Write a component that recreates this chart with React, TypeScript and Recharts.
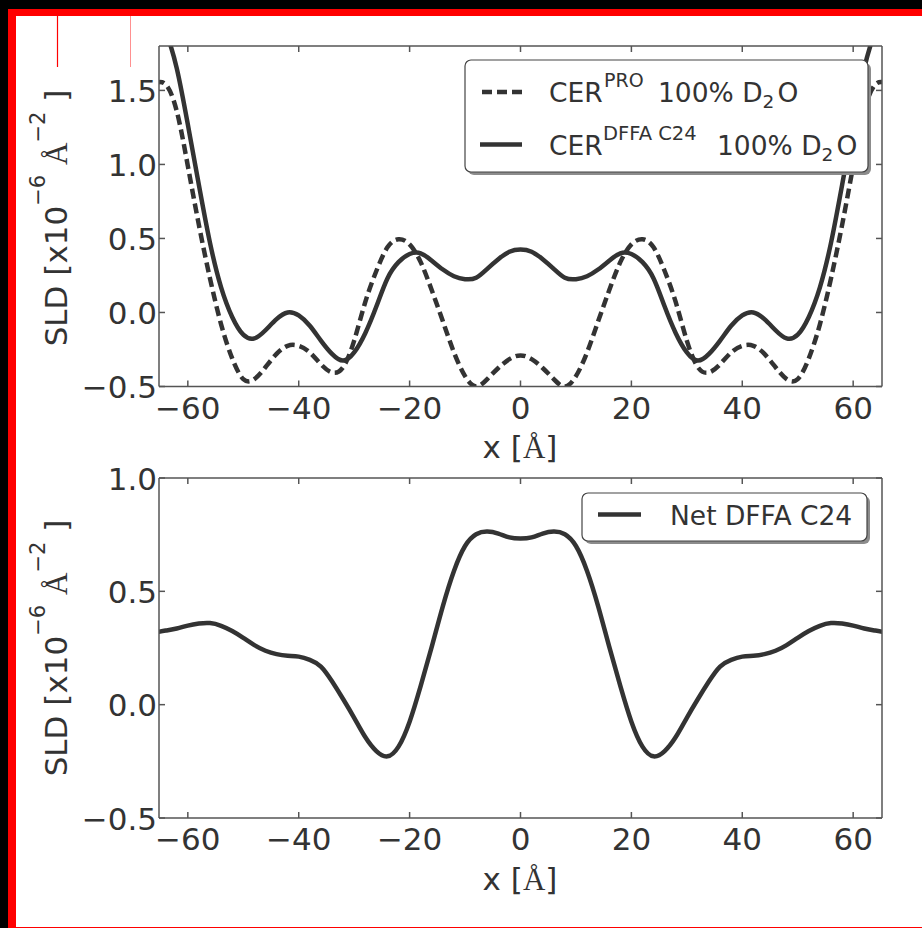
import React from "react";
import { Line, LineChart, XAxis, YAxis } from "recharts";

const INK = "#333333"; // curves and text
const SPINE = "#555555"; // axis frame and ticks
const FONT = "DejaVu Sans";
const SERIF = "Liberation Serif";

// x positions (Å), every 2 Å
const X_GRID = [
  -66, -64, -62, -60, -58, -56, -54, -52, -50, -48, -46, -44, -42, -40, -38, -36, -34,
  -32, -30, -28, -26, -24, -22, -20, -18, -16, -14, -12, -10, -8, -6, -4, -2, 0, 2, 4,
  6, 8, 10, 12, 14, 16, 18, 20, 22, 24, 26, 28, 30, 32, 34, 36, 38, 40, 42, 44, 46, 48,
  50, 52, 54, 56, 58, 60, 62, 64, 66,
];

// CER^PRO 100% D2O (dashed)
const PRO_SLD = [
  1.55, 1.54, 1.36, 0.99, 0.59, 0.23, -0.08, -0.31, -0.45, -0.45, -0.37, -0.28, -0.225,
  -0.225, -0.27, -0.35, -0.405, -0.37, -0.19, 0.07, 0.28, 0.44, 0.495, 0.46, 0.34, 0.15,
  -0.06, -0.27, -0.43, -0.5, -0.45, -0.375, -0.315, -0.29, -0.315, -0.375, -0.45, -0.5,
  -0.43, -0.27, -0.06, 0.15, 0.34, 0.46, 0.495, 0.44, 0.28, 0.07, -0.19, -0.37, -0.405,
  -0.35, -0.27, -0.225, -0.225, -0.28, -0.37, -0.45, -0.45, -0.31, -0.08, 0.23, 0.59,
  0.99, 1.36, 1.54, 1.55,
];

// CER^DFFA C24 100% D2O (solid)
const DFFA_SLD = [
  2.08, 1.9, 1.65, 1.27, 0.86, 0.47, 0.17, -0.03, -0.15, -0.175, -0.12, -0.045, 0.0,
  -0.02, -0.09, -0.19, -0.28, -0.325, -0.27, -0.14, 0.04, 0.23, 0.34, 0.395, 0.4, 0.35,
  0.29, 0.245, 0.225, 0.235, 0.295, 0.36, 0.41, 0.425, 0.41, 0.36, 0.295, 0.235, 0.225,
  0.245, 0.29, 0.35, 0.4, 0.395, 0.34, 0.23, 0.04, -0.14, -0.27, -0.325, -0.28, -0.19,
  -0.09, -0.02, 0.0, -0.045, -0.12, -0.175, -0.15, -0.03, 0.17, 0.47, 0.86, 1.27, 1.65,
  1.9, 2.08,
];

// Net DFFA C24 (lower panel)
const NET_SLD = [
  0.318, 0.327, 0.336, 0.349, 0.358, 0.36, 0.348, 0.325, 0.295, 0.263, 0.238, 0.223,
  0.216, 0.212, 0.198, 0.168, 0.103, 0.025, -0.058, -0.143, -0.205, -0.228, -0.185,
  -0.075, 0.083, 0.256, 0.435, 0.59, 0.7, 0.752, 0.764, 0.755, 0.738, 0.733, 0.738,
  0.755, 0.764, 0.752, 0.7, 0.59, 0.435, 0.256, 0.083, -0.075, -0.185, -0.228, -0.205,
  -0.143, -0.058, 0.025, 0.103, 0.168, 0.198, 0.212, 0.216, 0.223, 0.238, 0.263, 0.295,
  0.325, 0.348, 0.36, 0.358, 0.349, 0.336, 0.327, 0.318,
];

const X_DOMAIN: [number, number] = [-65.2, 65.2];
const X_TICKS = [-60, -40, -20, 0, 20, 40, 60];
const TOP_Y_DOMAIN: [number, number] = [-0.5, 1.8];
const TOP_Y_TICKS = [-0.5, 0, 0.5, 1.0, 1.5];
const NET_Y_DOMAIN: [number, number] = [-0.5, 1.0];
const NET_Y_TICKS = [-0.5, 0, 0.5, 1.0];

const topRows = X_GRID.map((x, i) => ({ x, pro: PRO_SLD[i], dffa: DFFA_SLD[i] }));
const netRows = X_GRID.map((x, i) => ({ x, net: NET_SLD[i] }));

const TICK_LEN = 6;
const TICK_FONT = 31;

// matplotlib style: unicode minus
const fmtX = (v: number) => (v < 0 ? `\u2212${Math.abs(v)}` : `${v}`);
const fmtY = (v: number) => (v < 0 ? `\u2212${Math.abs(v).toFixed(1)}` : v.toFixed(1));

// ticks point inward, labels drawn next to them
function BottomTick({ x, y, payload }: any) {
  return (
    <g>
      <line x1={x} x2={x} y1={y} y2={y - TICK_LEN} stroke={SPINE} strokeWidth={1.5} />
      <text x={x} y={y + 32} textAnchor="middle" fill={INK} fontSize={TICK_FONT} fontFamily={FONT}>
        {fmtX(payload.value)}
      </text>
    </g>
  );
}

function TopTick({ x, y }: any) {
  return <line x1={x} x2={x} y1={y} y2={y + TICK_LEN} stroke={SPINE} strokeWidth={1.5} />;
}

function LeftTick({ x, y, payload }: any) {
  return (
    <g>
      <line x1={x} x2={x + TICK_LEN} y1={y} y2={y} stroke={SPINE} strokeWidth={1.5} />
      <text x={x - 2} y={y + 11.5} textAnchor="end" fill={INK} fontSize={TICK_FONT} fontFamily={FONT}>
        {fmtY(payload.value)}
      </text>
    </g>
  );
}

function RightTick({ x, y }: any) {
  return <line x1={x} x2={x - TICK_LEN} y1={y} y2={y} stroke={SPINE} strokeWidth={1.5} />;
}

// four spines like matplotlib: bottom/left carry labels, top/right only ticks
function axes(yDomain: [number, number], yTicks: number[], xHeight: number) {
  const spine = { stroke: SPINE, strokeWidth: 1.5 };
  const shared = { tickSize: 0, tickMargin: 0, axisLine: spine, tickLine: false, allowDataOverflow: true };
  return [
    <XAxis
      key="xb"
      xAxisId="b"
      dataKey="x"
      type="number"
      domain={X_DOMAIN}
      ticks={X_TICKS}
      interval={0}
      height={xHeight}
      tick={BottomTick}
      {...shared}
    />,
    <XAxis
      key="xt"
      xAxisId="t"
      orientation="top"
      dataKey="x"
      type="number"
      domain={X_DOMAIN}
      ticks={X_TICKS}
      interval={0}
      height={1}
      tick={TopTick}
      {...shared}
    />,
    <YAxis
      key="yl"
      yAxisId="l"
      type="number"
      domain={yDomain}
      ticks={yTicks}
      interval={0}
      width={159}
      tick={LeftTick}
      {...shared}
    />,
    <YAxis
      key="yr"
      yAxisId="r"
      orientation="right"
      type="number"
      domain={yDomain}
      ticks={yTicks}
      interval={0}
      width={1}
      tick={RightTick}
      {...shared}
    />,
  ];
}

function Sld({ cx, cy }: { cx: number; cy: number }) {
  return (
    <text
      transform={`translate(${cx},${cy}) rotate(-90)`}
      textAnchor="middle"
      fill={INK}
      fontSize={31}
      fontFamily={FONT}
    >
      SLD [x10
      <tspan dy={-22} fontSize={21}>{"\u22126"}</tspan>
      <tspan dy={22}> </tspan>
      <tspan fontFamily={SERIF}>Å</tspan>
      <tspan dy={-22} fontSize={21}>{"\u22122"}</tspan>
      <tspan dy={22}> ]</tspan>
    </text>
  );
}

function XLabel({ cx, y }: { cx: number; y: number }) {
  return (
    <text x={cx} y={y} textAnchor="middle" fill={INK} fontSize={31} fontFamily={FONT}>
      x [<tspan fontFamily={SERIF}>Å</tspan>]
    </text>
  );
}

function D2O({ x, y }: { x: number; y: number }) {
  return (
    <text x={x} y={y} fill={INK} fontSize={26.5} fontFamily={FONT}>
      100% D
      <tspan dy={6} fontSize={18.5}>2</tspan>
      <tspan dy={-6} dx={3}>O</tspan>
    </text>
  );
}

export default function App() {
  return (
    <div
      style={{
        position: "fixed",
        left: 0,
        top: 0,
        width: 922,
        height: 928,
        background: "#000",
        overflow: "hidden",
      }}
    >
      <div style={{ position: "absolute", left: 8, top: 9, width: 914, height: 919, background: "#ff0000" }} />
      <div style={{ position: "absolute", left: 16, top: 16, width: 906, height: 911, background: "#fff" }} />

      <div style={{ position: "absolute", left: 0, top: 0 }}>
        <LineChart width={922} height={440} data={topRows} margin={{ top: 45, right: 39, bottom: 0, left: 0 }}>
          {axes(TOP_Y_DOMAIN, TOP_Y_TICKS, 53.5)}
          <Line
            xAxisId="b"
            yAxisId="l"
            type="natural"
            dataKey="pro"
            name="CER PRO 100% D2O"
            stroke={INK}
            strokeWidth={4.5}
            strokeDasharray="10 5"
            dot={false}
            isAnimationActive={false}
          />
          <Line
            xAxisId="b"
            yAxisId="l"
            type="natural"
            dataKey="dffa"
            name="CER DFFA C24 100% D2O"
            stroke={INK}
            strokeWidth={4.5}
            dot={false}
            isAnimationActive={false}
          />
        </LineChart>
      </div>

      <div style={{ position: "absolute", left: 0, top: 440 }}>
        <LineChart width={922} height={488} data={netRows} margin={{ top: 37, right: 39, bottom: 0, left: 0 }}>
          {axes(NET_Y_DOMAIN, NET_Y_TICKS, 110)}
          <Line
            xAxisId="b"
            yAxisId="l"
            type="natural"
            dataKey="net"
            name="Net DFFA C24"
            stroke={INK}
            strokeWidth={4.5}
            dot={false}
            isAnimationActive={false}
          />
        </LineChart>
      </div>

      <svg width={922} height={928} style={{ position: "absolute", left: 0, top: 0, pointerEvents: "none" }}>
        {/* stray marks in the top-left corner of the scan */}
        <line x1={57.5} x2={57.5} y1={16} y2={67} stroke="#ff0000" strokeWidth={1.2} />
        <line x1={130.5} x2={130.5} y1={16} y2={67} stroke="#ff9090" strokeWidth={1} />

        <Sld cx={66.5} cy={218} />
        <Sld cx={66.5} cy={648} />
        <XLabel cx={520} y={458} />
        <XLabel cx={520} y={890} />

        {/* upper legend */}
        <rect x={468} y={63} width={403} height={112} rx={6} fill="#8c8c8c" />
        <rect x={465} y={60} width={403} height={112} rx={6} fill="#fff" stroke="#444" strokeWidth={1.2} />
        <line x1={482} x2={522} y1={92} y2={92} stroke={INK} strokeWidth={4.5} strokeDasharray="10 5" />
        <text x={549} y={101.7} fill={INK} fontSize={26.5} fontFamily={FONT}>CER</text>
        <text x={604} y={87} fill={INK} fontSize={19} fontFamily={FONT}>PRO</text>
        <D2O x={658} y={101.7} />
        <line x1={480} x2={522} y1={144.5} y2={144.5} stroke={INK} strokeWidth={4.5} />
        <text x={549} y={154.5} fill={INK} fontSize={26.5} fontFamily={FONT}>CER</text>
        <text x={603} y={139.5} fill={INK} fontSize={19.5} fontFamily={FONT}>DFFA C24</text>
        <D2O x={717} y={154.5} />

        {/* lower legend */}
        <rect x={585} y={496} width={285} height={48} rx={6} fill="#8c8c8c" />
        <rect x={582} y={493} width={285} height={48} rx={6} fill="#fff" stroke="#444" strokeWidth={1.2} />
        <line x1={598} x2={641} y1={514.5} y2={514.5} stroke={INK} strokeWidth={4.5} />
        <text x={670} y={525} fill={INK} fontSize={26.5} fontFamily={FONT}>Net DFFA C24</text>
      </svg>
    </div>
  );
}
